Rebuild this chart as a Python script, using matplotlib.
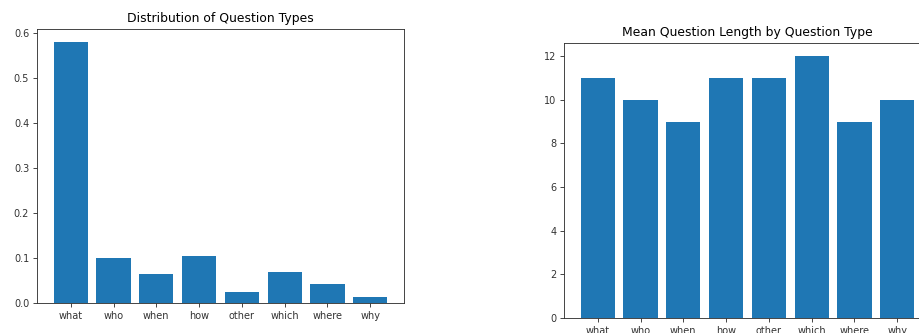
import matplotlib
matplotlib.use('Agg')
import matplotlib.pyplot as plt

# типы вопросов
question_types = ['what', 'who', 'when', 'how', 'other', 'which', 'where', 'why']

# доли типов вопросов
type_share = [0.58, 0.101, 0.065, 0.1055, 0.025, 0.069, 0.042, 0.014]

# средняя длина вопроса
mean_length = [11, 10, 9, 11, 11, 12, 9, 10]

W, H = 919, 333
DPI = 80

plt.rcParams['xtick.labelsize'] = 8.8
plt.rcParams['ytick.labelsize'] = 8.8
plt.rcParams['axes.titlesize'] = 11.2
plt.rcParams['axes.edgecolor'] = '#333333'
plt.rcParams['xtick.color'] = '#333333'
plt.rcParams['ytick.color'] = '#333333'

fig = plt.figure(figsize=(W / DPI, H / DPI), dpi=DPI)

# левый график
ax1 = fig.add_axes([37 / W, (H - 303) / H, 367 / W, 274 / H])
ax1.bar(question_types, type_share)
ax1.set_title('Distribution of Question Types')

# правый график (обрезан справа, как в исходнике)
ax2 = fig.add_axes([564 / W, (H - 318) / H, 367 / W, 275 / H])
ax2.bar(question_types, mean_length)
ax2.set_title('Mean Question Length by Question Type')

fig.savefig('out.png', dpi=DPI)
